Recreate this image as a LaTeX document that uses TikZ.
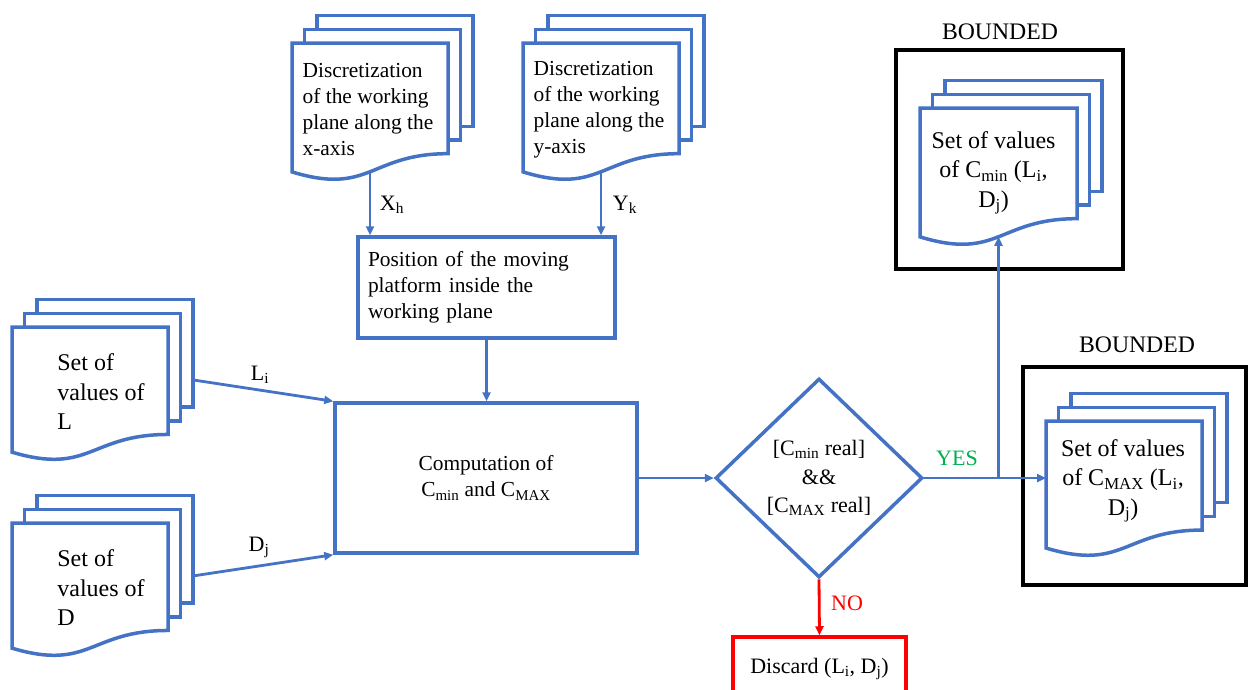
\documentclass[tikz,border=0pt]{standalone}
\usepackage{fontspec}
\setmainfont{Liberation Serif}
\usetikzlibrary{shapes.geometric,arrows.meta}
\definecolor{ofblue}{HTML}{4472C4}
\definecolor{ofgreen}{HTML}{00B050}
\tikzset{
  docline/.style={draw=ofblue,line width=3.5pt,fill=white,line join=miter},
  box/.style={draw=ofblue,line width=3.5pt,fill=white},
  bbox/.style={draw=black,line width=4pt},
  arr/.style={draw=ofblue,line width=2.8pt,-{Triangle[length=9pt,width=8pt]}},
  lbl/.style={font=\fontsize{22}{26}\selectfont,inner sep=0pt},
  smalltext/.style={font=\fontsize{21.4}{26}\selectfont,inner sep=0pt},
  bigtext/.style={font=\fontsize{24}{29.5}\selectfont,inner sep=0pt},
}
% name, x0, y0, w, h, text y fraction, node options, text
\newcommand\multidoc[8]{%
  \pgfmathsetmacro\mdR{#2+#4}%
  \pgfmathsetmacro\mdYR{#3+0.802*#5}%
  \pgfmathsetmacro\mdYL{#3+0.934*#5}%
  \pgfmathsetmacro\mdYC{#3+1.1075*#5}%
  \pgfmathsetmacro\mdM{#2+0.5*#4}%
  \draw[docline] (#2+25,#3-27.4) rectangle (\mdR+25,\mdYR-27.4);
  \draw[docline] (#2+12.5,#3-13.7) rectangle (\mdR+12.5,\mdYR-13.7);
  \draw[docline] (#2,#3) -- (\mdR,#3) -- (\mdR,\mdYR)
     .. controls (\mdM,\mdYR) and (\mdM,\mdYC) .. (#2,\mdYL) -- cycle;
  \node[#7] (#1) at (\mdM,#3+#6*#5) {#8};
  \coordinate (#1-b) at (\mdM,#3+0.933*#5);
  \coordinate (#1-r) at (\mdR+25,#3+0.395*#5);
  \coordinate (#1-w) at (#2,#3);
}
\begin{document}
\begin{tikzpicture}[x=1pt,y=-1pt]
\useasboundingbox (0,0) rectangle (1248,689);
\clip (0,0) rectangle (1248,689);

% bounded frames
\node[bbox,minimum width=227,minimum height=219] (bnd1) at (1009.5,159.5) {};
\node[font=\fontsize{23.7}{28}\selectfont,inner sep=0pt] (bnd1lab) at (1000,32) {BOUNDED};
\node[bbox,minimum width=223,minimum height=218] (bnd2) at (1134.5,476) {};
\node[font=\fontsize{23.7}{28}\selectfont,inner sep=0pt] (bnd2lab) at (1137,345) {BOUNDED};

% documents
\multidoc{xdoc}{292}{43}{156}{138}{0.48}{smalltext,align=left,xshift=-2}{Discretization\\of the working\\plane along the\\x-axis}
\multidoc{ydoc}{523}{43}{156}{138}{0.48}{smalltext,align=left,xshift=-2}{Discretization\\of the working\\plane along the\\y-axis}
\multidoc{ldoc}{12}{327}{156}{134}{0.485}{bigtext,align=left,xshift=11}{Set of\\values of\\L}
\multidoc{ddoc}{12}{523}{156}{134}{0.485}{bigtext,align=left,xshift=11}{Set of\\values of\\D}
\multidoc{cmin}{920}{108}{157}{138}{0.47}{bigtext,align=center,xshift=-5}{Set of values\\of C\textsubscript{min} (L\textsubscript{i},\\D\textsubscript{j})}
\multidoc{cmax}{1046}{421}{156}{136}{0.44}{bigtext,align=center,xshift=-1}{Set of values\\of C\textsubscript{MAX} (L\textsubscript{i},\\D\textsubscript{j})}

% process boxes
\node[box,smalltext,minimum width=257,minimum height=101,text width=237,inner xsep=10pt,align=left] (pos) at (486.5,287.5)
  {Position of the moving\\platform inside the\\working plane};
\node[box,smalltext,minimum width=302,minimum height=150,align=center] (comp) at (486,478)
  {Computation of\\C\textsubscript{min} and C\textsubscript{MAX}};
\node[diamond,draw=ofblue,line width=3.5pt,fill=white,minimum width=207,minimum height=199,inner sep=0pt,
  align=center,font=\fontsize{22}{28.5}\selectfont] (dia) at (819,478)
  {{[}C\textsubscript{min} real{]}\\\&\&\\{[}C\textsubscript{MAX} real{]}};
\node[draw=red,line width=3.5pt,fill=white,minimum width=173,minimum height=64,
  font=\fontsize{22}{26}\selectfont] (disc) at (819.5,669)
  {Discard (L\textsubscript{i}, D\textsubscript{j})};

% connectors
\draw[arr] (xdoc-b) -- (xdoc-b |- pos.north);
\draw[arr] (ydoc-b) -- (ydoc-b |- pos.north);
\draw[arr] (pos.south) -- (pos.south |- comp.north);
\draw[arr] (ldoc-r) -- (comp.north west);
\draw[arr] (ddoc-r) -- (comp.south west);
\draw[arr] (comp.east) -- (dia.west);
\draw[arr] (dia.east) -- (dia.east -| cmax-w);
\coordinate (br) at (dia.east -| cmin-b);
\draw[arr] (br) -- (cmin-b);
\draw[arr,draw=red] (dia.south) -- (disc.north);

% labels
\node[lbl] (lx) at (392,205) {X\textsubscript{h}};
\node[lbl] (ly) at (625,205) {Y\textsubscript{k}};
\node[lbl] (lli) at (260,375) {L\textsubscript{i}};
\node[lbl] (ldj) at (259,547) {D\textsubscript{j}};
\node[lbl,text=ofgreen] (lyes) at (957,458) {YES};
\node[lbl,text=red] (lno) at (847,603) {NO};
\end{tikzpicture}
\end{document}
